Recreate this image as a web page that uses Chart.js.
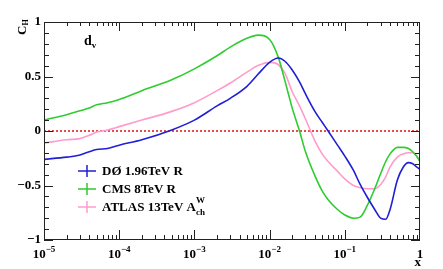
<!DOCTYPE html>
<html>
<head>
<meta charset="utf-8">
<script src="https://cdn.jsdelivr.net/npm/chart.js@4.4.0/dist/chart.umd.min.js"></script>
<style>
html, body { margin: 0; padding: 0; background: #fff; }
#wrap { width: 443px; height: 269px; }
</style>
</head>
<body>
<div id="wrap"><canvas id="chart-dv" width="443" height="269"></canvas></div>
<script>
// x values (log axis) shared by the three curves
xValues = [1e-5, 2e-5, 3e-5, 4e-5, 5e-5, 7e-5, 1e-4, 2e-4, 5e-4, 1e-3, 2e-3, 3e-3, 5e-3, 7e-3,
    1e-2, 1.3e-2, 1.6e-2, 2e-2, 2.5e-2, 3e-2, 4e-2, 5e-2, 6e-2, 8e-2,
    0.1, 0.13, 0.16, 0.2, 0.25, 0.3, 0.35, 0.4, 0.5, 0.6, 0.7, 0.8, 0.9, 1]

d0Values = [-0.26, -0.24, -0.22, -0.19, -0.17, -0.16, -0.13, -0.08, 0.01, 0.10, 0.23, 0.30, 0.41, 0.52,
    0.63, 0.67, 0.64, 0.56, 0.45, 0.34, 0.18, 0.08, 0.00, -0.13,
    -0.23, -0.36, -0.49, -0.61, -0.72, -0.80, -0.81, -0.72, -0.45, -0.33, -0.29, -0.30, -0.33, -0.35]

cmsValues = [0.10, 0.15, 0.185, 0.21, 0.24, 0.26, 0.29, 0.37, 0.47, 0.57, 0.69, 0.77, 0.85, 0.88,
    0.84, 0.68, 0.46, 0.21, 0.00, -0.19, -0.41, -0.55, -0.63, -0.72,
    -0.77, -0.80, -0.79, -0.68, -0.53, -0.39, -0.28, -0.21, -0.15, -0.15, -0.16, -0.19, -0.23, -0.28]

atlasValues = [-0.11, -0.08, -0.07, -0.04, -0.01, 0.01, 0.04, 0.10, 0.18, 0.26, 0.37, 0.44, 0.54, 0.60,
    0.63, 0.61, 0.53, 0.36, 0.23, 0.11, -0.09, -0.21, -0.28, -0.37,
    -0.44, -0.50, -0.52, -0.53, -0.53, -0.49, -0.42, -0.33, -0.24, -0.21, -0.20, -0.20, -0.23, -0.28]

zeroLine = [0, 0]
zeroX = [1e-5, 1]

yTickValues = [-1, -0.5, 0, 0.5, 1]
yTickLabels = ['\u22121', '\u22120.5', '0', '0.5', '1']

xDecades = [1e-5, 1e-4, 1e-3, 1e-2, 1e-1, 1]
xDecadeBase = ['10', '10', '10', '10', '10', '1']
xDecadeExp = ['\u22125', '\u22124', '\u22123', '\u22122', '\u22121', '']

legendLabels = ['D\u00d8 1.96TeV R', 'CMS 8TeV R', 'ATLAS 13TeV A']
legendSub = ['', '', 'ch']
legendSup = ['', '', 'W']

d0_color = '#1f1fd6'
cms_color = '#2fcc2f'
atlas_color = '#ff9ccc'
zero_color = '#e01010'

serif = '"Liberation Serif", "Times New Roman", serif'

function pairs(xs, ys) {
    return xs.map((x, i) => ({x: x, y: ys[i]}))
}

// frame, inward ticks, x labels, titles and the legend
const rootStyle = {
    id: 'rootStyle',
    afterDraw(chart) {
        const ctx = chart.ctx
        const a = chart.chartArea
        const xs = chart.scales.x
        const ys = chart.scales.y
        ctx.save()
        ctx.strokeStyle = '#222'
        ctx.lineWidth = 1
        ctx.strokeRect(a.left + 0.5, a.top + 0.5, a.right - a.left - 1, a.bottom - a.top - 1)

        ctx.beginPath()
        for (let i = -10; i <= 10; i++) {
            const py = Math.round(ys.getPixelForValue(i / 10)) + 0.5
            const len = (i % 5 === 0) ? 9 : 5
            ctx.moveTo(a.left, py); ctx.lineTo(a.left + len, py)
            ctx.moveTo(a.right, py); ctx.lineTo(a.right - len, py)
        }
        for (let d = -5; d < 0; d++) {
            for (let m = 1; m <= 9; m++) {
                const px = Math.round(xs.getPixelForValue(m * Math.pow(10, d))) + 0.5
                const major = m === 1
                ctx.moveTo(px, a.bottom); ctx.lineTo(px, a.bottom - (major ? 10 : 5))
                ctx.moveTo(px, a.top); ctx.lineTo(px, a.top + (major ? 9 : 4))
            }
        }
        ctx.stroke()

        // x tick labels with exponents
        ctx.fillStyle = '#000'
        ctx.textBaseline = 'alphabetic'
        xDecades.forEach((v, i) => {
            const px = xs.getPixelForValue(v)
            ctx.font = 'bold 13px ' + serif
            const wb = ctx.measureText(xDecadeBase[i]).width
            ctx.font = 'bold 9px ' + serif
            const we = ctx.measureText(xDecadeExp[i]).width
            const x0 = px - (wb + we) / 2
            ctx.font = 'bold 13px ' + serif
            ctx.textAlign = 'left'
            ctx.fillText(xDecadeBase[i], x0, 258)
            ctx.font = 'bold 9px ' + serif
            ctx.fillText(xDecadeExp[i], x0 + wb, 252)
        })

        // axis titles
        ctx.font = 'bold 13px ' + serif
        ctx.textAlign = 'right'
        ctx.fillText('x', a.right + 1, 266)

        ctx.save()
        ctx.translate(26, 35)
        ctx.rotate(-Math.PI / 2)
        ctx.textAlign = 'left'
        ctx.font = 'bold 13px ' + serif
        ctx.fillText('C', 0, 0)
        const wc = ctx.measureText('C').width
        ctx.font = 'bold 8px ' + serif
        ctx.fillText('H', wc, 2)
        ctx.restore()

        // d_v label
        ctx.textAlign = 'left'
        ctx.font = 'bold 14px ' + serif
        ctx.fillText('d', 84, 45)
        const wd = ctx.measureText('d').width
        ctx.font = 'bold 9px ' + serif
        ctx.fillText('v', 84 + wd, 48)

        // legend
        chart.data.datasets.slice(0, 3).forEach((ds, i) => {
            const cy = 171 + i * 18
            ctx.strokeStyle = ds.borderColor
            ctx.lineWidth = 1.5
            ctx.beginPath()
            ctx.moveTo(78, cy); ctx.lineTo(96, cy)
            ctx.moveTo(87, cy - 6); ctx.lineTo(87, cy + 6)
            ctx.stroke()
            ctx.fillStyle = '#000'
            ctx.font = 'bold 13px ' + serif
            ctx.fillText(legendLabels[i], 102, cy + 4)
            const wl = ctx.measureText(legendLabels[i]).width
            if (legendSub[i]) {
                ctx.font = 'bold 9px ' + serif
                ctx.fillText(legendSub[i], 102 + wl, cy + 8)
                ctx.fillText(legendSup[i], 102 + wl, cy - 4)
            }
        })
        ctx.restore()
    }
}

dv_chart = new Chart(document.getElementById('chart-dv').getContext('2d'), {
    type: 'line',
    data: {
        datasets: [{
            label: legendLabels[0],
            data: pairs(xValues, d0Values),
            borderColor: d0_color,
            borderWidth: 1.6,
            pointRadius: 0,
            cubicInterpolationMode: 'monotone'
        }, {
            label: legendLabels[1],
            data: pairs(xValues, cmsValues),
            borderColor: cms_color,
            borderWidth: 1.6,
            pointRadius: 0,
            cubicInterpolationMode: 'monotone'
        }, {
            label: legendLabels[2],
            data: pairs(xValues, atlasValues),
            borderColor: atlas_color,
            borderWidth: 1.6,
            pointRadius: 0,
            cubicInterpolationMode: 'monotone'
        }, {
            label: 'zero',
            data: pairs(zeroX, zeroLine),
            borderColor: zero_color,
            borderWidth: 1.5,
            borderDash: [2, 2],
            pointRadius: 0
        }]
    },
    options: {
        responsive: false,
        animation: false,
        devicePixelRatio: 1,
        layout: {
            padding: {top: 22, right: 23, left: 0, bottom: 0}
        },
        plugins: {
            legend: {display: false},
            tooltip: {enabled: false}
        },
        scales: {
            x: {
                type: 'logarithmic',
                min: 1e-5,
                max: 1,
                grid: {display: false, drawTicks: false},
                border: {display: false},
                ticks: {display: false},
                afterFit: s => { s.height = 29 }
            },
            y: {
                min: -1,
                max: 1,
                grid: {display: false, drawTicks: false},
                border: {display: false},
                afterBuildTicks: s => { s.ticks = yTickValues.map(v => ({value: v})) },
                ticks: {
                    color: '#000',
                    padding: 3,
                    font: {family: serif, weight: 'bold', size: 13},
                    callback: v => yTickLabels[yTickValues.indexOf(v)]
                },
                afterFit: s => { s.width = 44 }
            }
        }
    },
    plugins: [rootStyle]
});
</script>
</body>
</html>
